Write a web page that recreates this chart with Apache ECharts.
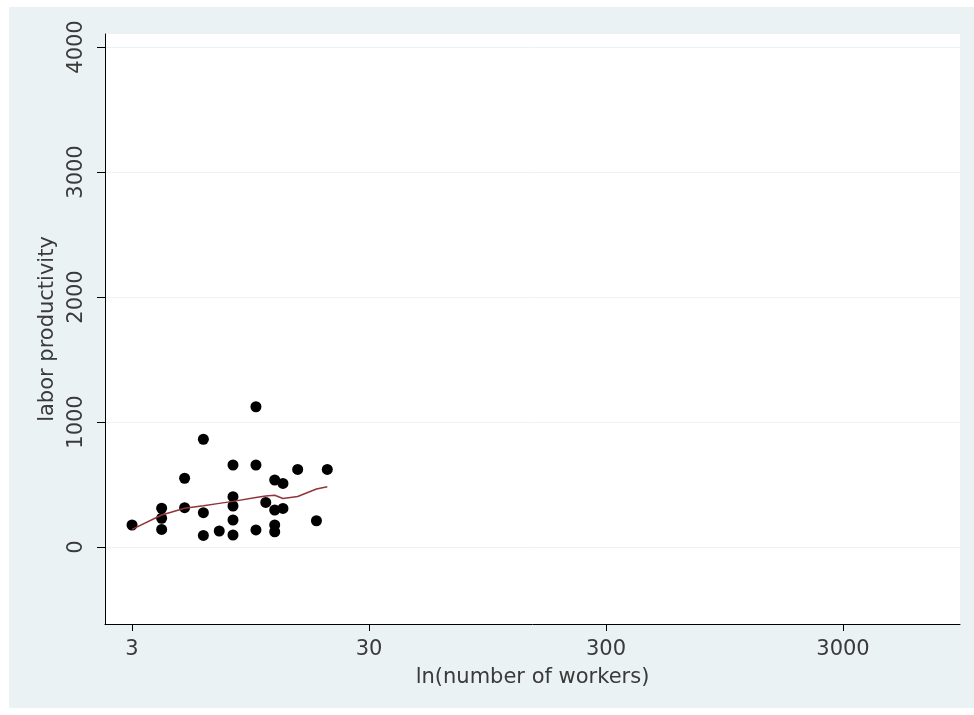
<!DOCTYPE html>
<html>
<head>
<meta charset="utf-8">
<script src="https://cdn.jsdelivr.net/npm/echarts@6/dist/echarts.min.js"></script>
<style>
html,body{margin:0;padding:0;background:#ffffff;}
#chart{width:974px;height:715px;}
</style>
</head>
<body>
<div id="chart"></div>
<script>
// Scatter data: number of workers vs labor productivity
var workers = [3,4,4,4,5,5,6,6,6,7,8,8,8,8,8,10,10,10,11,12,12,12,12,13,13,15,18,20];
var productivity = [176,310,230,141,550,315,862,275,93,128,656,403,328,216,96,1122,656,137,357,536,296,176,122,509,309,621,210,621];
// Lowess smoother
var lowessWorkers = [3,4,5,6,7,8,10,11,12,13,15,18,20];
var lowessValues = [141,256,310,330,349,365,396,408,414,388,404,464,482];
// Axis ticks
var xTicks = [3,30,300,3000];
var yTicks = [0,1000,2000,3000,4000];
var xRange = [2.307, 9350];
var yRange = [-616, 4104];

var lg = function(v){ return Math.log10(v); };
var scatterData = workers.map(function(w,i){ return [lg(w), productivity[i]]; });
var lineData = lowessWorkers.map(function(w,i){ return [lg(w), lowessValues[i]]; });

var font = 'DejaVu Sans';
var chart = echarts.init(document.getElementById('chart'), null, {renderer:'canvas'});
chart.setOption({
  animation:false,
  backgroundColor:'transparent',
  graphic:[{type:'rect', z:-10, silent:true, shape:{x:9,y:7,width:965,height:701}, style:{fill:'#eaf2f3'}}],
  grid:{left:105, right:14, top:34, bottom:91, show:true, backgroundColor:'#ffffff', borderWidth:0},
  xAxis:{
    type:'value', min:lg(xRange[0]), max:lg(xRange[1]),
    name:'ln(number of workers)', nameLocation:'middle', nameGap:43,
    nameTextStyle:{fontFamily:font, fontSize:21, color:'#3a3a3a'},
    axisLine:{show:true, onZero:false, lineStyle:{color:'#000', width:1}},
    axisTick:{show:true, length:7, customValues:xTicks.map(lg), lineStyle:{color:'#000'}},
    axisLabel:{customValues:xTicks.map(lg), margin:15, fontFamily:font, fontSize:21, color:'#3a3a3a',
      formatter:function(v){ return String(Math.round(Math.pow(10,v))); }},
    splitLine:{show:false}
  },
  yAxis:{
    type:'value', min:yRange[0], max:yRange[1],
    name:'labor productivity', nameLocation:'middle', nameGap:46, nameRotate:90,
    nameTextStyle:{fontFamily:font, fontSize:21, color:'#3a3a3a'},
    axisLine:{show:true, onZero:false, lineStyle:{color:'#000', width:1}},
    axisTick:{show:true, length:8, customValues:yTicks, lineStyle:{color:'#000'}},
    axisLabel:{customValues:yTicks, rotate:90, margin:18, fontFamily:font, fontSize:21, color:'#3a3a3a',
      formatter:function(v){ return String(v); }},
    splitLine:{show:true, lineStyle:{color:'#eaf2f3', width:1}}
  },
  series:[
    {type:'scatter', data:scatterData, symbol:'circle', symbolSize:11, itemStyle:{color:'#000', opacity:1}, z:3},
    {type:'line', data:lineData, symbol:'none', smooth:false, lineStyle:{color:'#90353b', width:1.5}, z:4}
  ]
});
</script>
</body>
</html>
